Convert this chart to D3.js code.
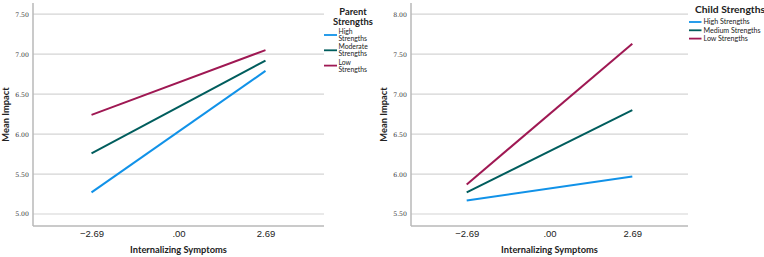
<!DOCTYPE html>
<html>
<head>
<meta charset="utf-8">
<script src="https://cdn.jsdelivr.net/npm/d3@7"></script>
<style>
  body { margin: 0; background: #fff; }
  svg { display: block; font-family: Lato, "Open Sans", sans-serif; }
</style>
</head>
<body>
<svg id="drawing_region"></svg>
<script>
// x positions (internalizing symptoms, -1 SD / mean / +1 SD)
const xTicks = [ -2.69, 0, 2.69 ];
const xTickLabels = [ '\u22122.69', '.00', '2.69' ];

// left panel: parent strengths moderator
const parentSeries = [ 'High Strengths', 'Moderate Strengths', 'Low Strengths' ];
const parentLegend = [ [ 'High', 'Strengths' ], [ 'Moderate', 'Strengths' ], [ 'Low', 'Strengths' ] ];
const parentHigh = [ 5.27, 6.79 ];
const parentModerate = [ 5.76, 6.92 ];
const parentLow = [ 6.24, 7.05 ];
const parentYTicks = [ 5.00, 5.50, 6.00, 6.50, 7.00, 7.50 ];

// right panel: child strengths moderator
const childSeries = [ 'High Strengths', 'Medium Strengths', 'Low Strengths' ];
const childHigh = [ 5.67, 5.97 ];
const childMedium = [ 5.77, 6.80 ];
const childLow = [ 5.87, 7.63 ];
const childYTicks = [ 5.50, 6.00, 6.50, 7.00, 7.50, 8.00 ];

const colors = [ '#1192e8', '#005d5d', '#9f1853' ];
const xEnds = [ -2.69, 2.69 ];

const svg = d3.select( '#drawing_region' )
    .attr( 'width', 764 )
    .attr( 'height', 257 );

function drawPanel( config ) {
    const g = svg.append( 'g' );

    const xscale = d3.scaleLinear()
        .domain( [ -4.5, 4.5 ] )
        .range( [ config.left, config.right ] );

    const yscale = d3.scaleLinear()
        .domain( config.ydomain )
        .range( [ config.bottom, config.top ] );

    // grid
    g.selectAll( '.grid' )
        .data( config.yticks )
        .join( 'line' )
        .attr( 'x1', config.left )
        .attr( 'x2', config.right )
        .attr( 'y1', d => yscale( d ) )
        .attr( 'y2', d => yscale( d ) )
        .attr( 'stroke', '#d4d4d4' )
        .attr( 'stroke-width', 1.2 );

    // y axis
    const yaxis = d3.axisLeft( yscale )
        .tickValues( config.yticks )
        .tickFormat( d3.format( '.2f' ) )
        .tickSize( 0 )
        .tickPadding( 4 );

    const yg = g.append( 'g' )
        .attr( 'transform', `translate(${config.left}, 0)` )
        .call( yaxis );
    yg.select( '.domain' ).remove();
    yg.selectAll( 'text' )
        .attr( 'font-size', 6.2 )
        .attr( 'font-family', '"DejaVu Serif", serif' )
        .attr( 'fill', '#333' );

    // x axis
    const xaxis = d3.axisBottom( xscale )
        .tickValues( xTicks )
        .tickFormat( ( d, i ) => xTickLabels[ i ] )
        .tickSize( 0 )
        .tickPadding( 4 );

    const xg = g.append( 'g' )
        .attr( 'transform', `translate(0, ${config.bottom})` )
        .call( xaxis );
    xg.select( '.domain' ).remove();
    xg.selectAll( 'text' )
        .attr( 'font-size', 9.5 )
        .attr( 'fill', '#222' );

    // axis lines
    g.append( 'line' )
        .attr( 'x1', config.left ).attr( 'x2', config.left )
        .attr( 'y1', config.top ).attr( 'y2', config.bottom )
        .attr( 'stroke', '#b8b8b8' ).attr( 'stroke-width', 1.5 );
    g.append( 'line' )
        .attr( 'x1', config.left ).attr( 'x2', config.right )
        .attr( 'y1', config.bottom ).attr( 'y2', config.bottom )
        .attr( 'stroke', '#b8b8b8' ).attr( 'stroke-width', 1.5 );

    // lines
    const line = d3.line()
        .x( ( d, i ) => xscale( xEnds[ i ] ) )
        .y( d => yscale( d ) );

    g.selectAll( '.series' )
        .data( config.values )
        .join( 'path' )
        .attr( 'd', d => line( d ) )
        .attr( 'fill', 'none' )
        .attr( 'stroke', ( d, i ) => colors[ i ] )
        .attr( 'stroke-width', 2 );

    // axis titles
    g.append( 'text' )
        .attr( 'x', ( config.left + config.right ) / 2 )
        .attr( 'y', 252.5 )
        .attr( 'text-anchor', 'middle' )
        .attr( 'font-size', 9.3 )
        .attr( 'font-weight', 'bold' )
        .attr( 'fill', '#222' )
        .text( 'Internalizing Symptoms' );

    g.append( 'text' )
        .attr( 'transform', `translate(${config.left - 24}, ${( config.top + config.bottom ) / 2}) rotate(-90)` )
        .attr( 'text-anchor', 'middle' )
        .attr( 'font-size', 9.3 )
        .attr( 'font-weight', 'bold' )
        .attr( 'fill', '#222' )
        .text( 'Mean Impact' );

    return g;
}

const left = drawPanel( {
    left: 33, right: 324, top: 3, bottom: 226,
    ydomain: [ 4.85, 7.64 ],
    yticks: parentYTicks,
    values: [ parentHigh, parentModerate, parentLow ]
} );

const right = drawPanel( {
    left: 411, right: 688, top: 3, bottom: 226,
    ydomain: [ 5.35, 8.14 ],
    yticks: childYTicks,
    values: [ childHigh, childMedium, childLow ]
} );

// left legend
const ltitle = left.append( 'text' )
    .attr( 'text-anchor', 'middle' )
    .attr( 'font-size', 9.4 )
    .attr( 'font-weight', 'bold' )
    .attr( 'fill', '#222' );
ltitle.append( 'tspan' ).attr( 'x', 353 ).attr( 'y', 14.5 ).text( 'Parent' );
ltitle.append( 'tspan' ).attr( 'x', 353 ).attr( 'y', 24.5 ).text( 'Strengths' );

const litems = left.selectAll( '.litem' )
    .data( parentSeries )
    .join( 'g' )
    .attr( 'transform', ( d, i ) => `translate(324, ${35 + i * 15.3})` );
litems.append( 'line' )
    .attr( 'x1', 0 ).attr( 'x2', 13 )
    .attr( 'stroke', ( d, i ) => colors[ i ] )
    .attr( 'stroke-width', 1.8 );
litems.append( 'text' )
    .attr( 'font-size', 6.8 )
    .attr( 'fill', '#222' )
    .each( function( d, i ) {
        const t = d3.select( this );
        parentLegend[ i ].forEach( ( s, j ) => {
            t.append( 'tspan' ).attr( 'x', 14.5 ).attr( 'y', -1 + j * 7 ).text( s );
        } );
    } );

// right legend
right.append( 'text' )
    .attr( 'x', 695 )
    .attr( 'y', 13 )
    .attr( 'font-size', 10.3 )
    .attr( 'font-weight', 'bold' )
    .attr( 'fill', '#222' )
    .text( 'Child Strengths' );

const ritems = right.selectAll( '.ritem' )
    .data( childSeries )
    .join( 'g' )
    .attr( 'transform', ( d, i ) => `translate(689, ${22 + i * 8.3})` );
ritems.append( 'line' )
    .attr( 'x1', 0 ).attr( 'x2', 12.5 )
    .attr( 'stroke', ( d, i ) => colors[ i ] )
    .attr( 'stroke-width', 1.8 );
ritems.append( 'text' )
    .attr( 'x', 14.5 )
    .attr( 'y', 2.4 )
    .attr( 'font-size', 7.1 )
    .attr( 'fill', '#222' )
    .text( d => d );
</script>
</body>
</html>
